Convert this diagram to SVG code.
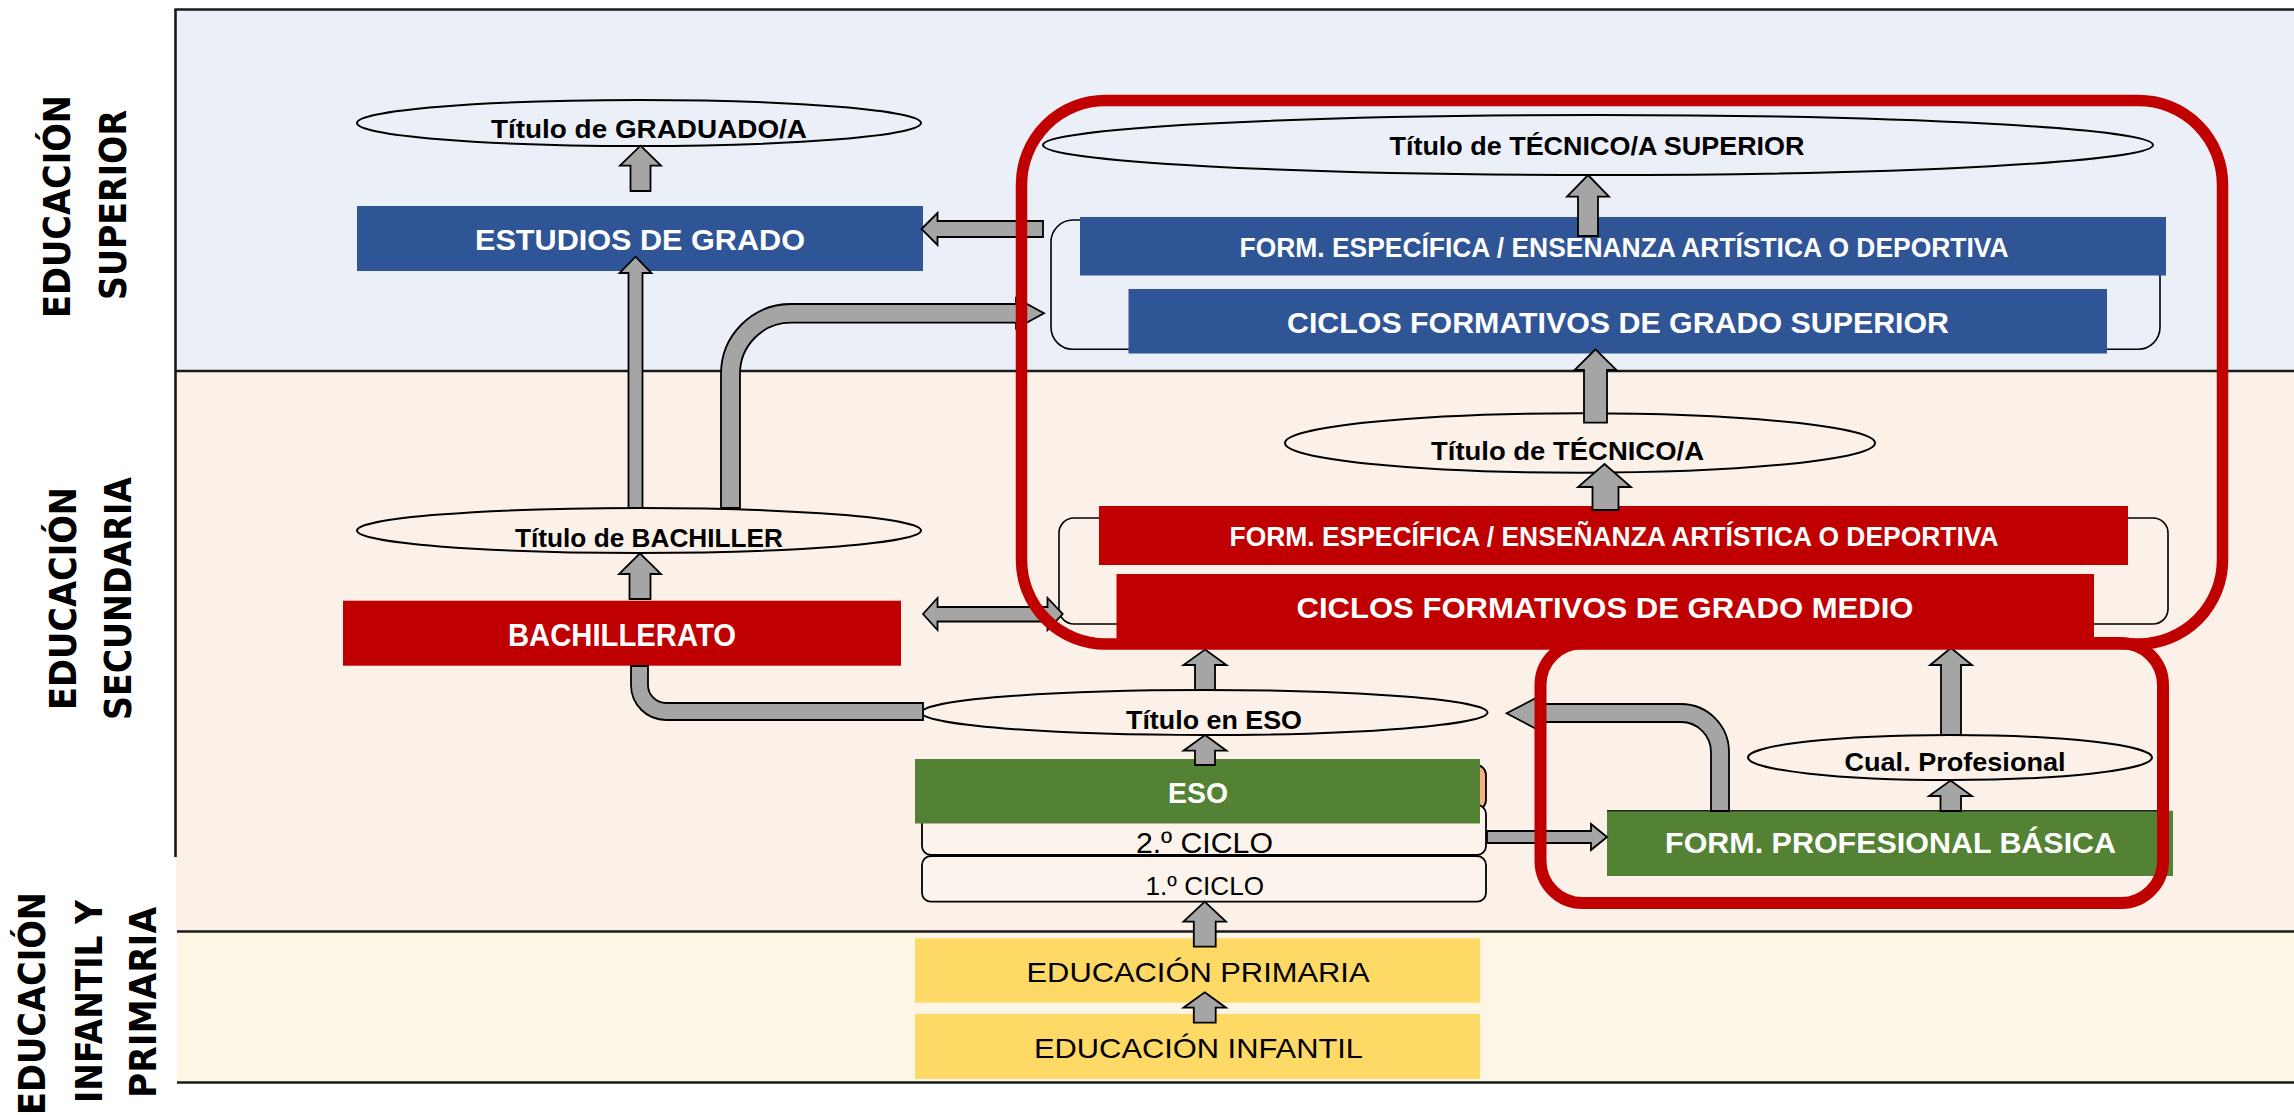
<svg xmlns="http://www.w3.org/2000/svg" width="2294" height="1115" viewBox="0 0 2294 1115">
<style>
.frame{stroke:#1a1a1a;stroke-width:2.6;fill:none}
.lbl{font-family:"DejaVu Sans","Liberation Sans",sans-serif;font-weight:bold;font-size:38px;fill:#000;text-anchor:middle}
.ell{fill:none;stroke:#000;stroke-width:2}
.et{font-family:"Liberation Sans",Arial,sans-serif;font-weight:bold;fill:#000;text-anchor:middle}
.wt{font-family:"Liberation Sans",Arial,sans-serif;font-weight:bold;fill:#fff;text-anchor:middle}
.rt{font-family:"Liberation Sans",Arial,sans-serif;fill:#000;text-anchor:middle}
.blue{fill:#2F5597}
.red{fill:#C00000}
.green{fill:#548235}
.yel{fill:#FFD966}
.brk{fill:none;stroke:#000;stroke-width:1.6}
.box{fill:#FCF3EC;stroke:#000;stroke-width:1.8}
.arr{fill:#A5A5A5;stroke:#000;stroke-width:1.8;stroke-linejoin:miter}
.hl{fill:none;stroke:#C00000}
</style>

<g id="background">
<rect x="0" y="0" width="2294" height="1115" fill="#fff"/>
<rect x="176" y="9" width="2118" height="362" fill="#EBEFF8"/>
<rect x="176" y="371" width="2118" height="560" fill="#FBF1E9"/>
<rect x="177" y="931" width="2117" height="152" fill="#FEF6E4"/>
<line class="frame" x1="174.5" y1="9.5" x2="2294" y2="9.5"/>
<line class="frame" x1="175.5" y1="9" x2="175.5" y2="857"/>
<line class="frame" x1="176" y1="371" x2="2294" y2="371"/>
<line class="frame" x1="177" y1="931.5" x2="2294" y2="931.5"/>
<line class="frame" x1="177" y1="1082.5" x2="2294" y2="1082.5"/>
</g>

<g id="label-superior">
<text class="lbl" transform="translate(70,206.5) rotate(-90)" textLength="223" lengthAdjust="spacingAndGlyphs">EDUCACIÓN</text>
<text class="lbl" transform="translate(125.5,205) rotate(-90)" textLength="190" lengthAdjust="spacingAndGlyphs">SUPERIOR</text>
</g>
<g id="label-secundaria">
<text class="lbl" transform="translate(76,598.5) rotate(-90)" textLength="223" lengthAdjust="spacingAndGlyphs">EDUCACIÓN</text>
<text class="lbl" transform="translate(131,598.5) rotate(-90)" textLength="243" lengthAdjust="spacingAndGlyphs">SECUNDARIA</text>
</g>
<g id="label-primaria">
<text class="lbl" transform="translate(44.5,1003.5) rotate(-90)" textLength="223" lengthAdjust="spacingAndGlyphs">EDUCACIÓN</text>
<text class="lbl" transform="translate(102,1001.5) rotate(-90)" textLength="203" lengthAdjust="spacingAndGlyphs">INFANTIL Y</text>
<text class="lbl" transform="translate(156,1002.5) rotate(-90)" textLength="191" lengthAdjust="spacingAndGlyphs">PRIMARIA</text>
</g>

<g id="bracket-superior"><rect class="brk" x="1051" y="220" width="1109" height="129.3" rx="22"/></g>
<g id="bracket-medio"><rect class="brk" x="1059" y="518" width="1109" height="106" rx="15"/></g>

<g id="titulo-graduado">
<ellipse class="ell" cx="639" cy="123" rx="282" ry="23"/>
<text class="et" x="649" y="138" font-size="25" textLength="316" lengthAdjust="spacingAndGlyphs">Título de GRADUADO/A</text>
</g>
<g id="titulo-tecnico-superior">
<ellipse class="ell" cx="1598" cy="145" rx="555" ry="30"/>
<text class="et" x="1597" y="155" font-size="25.5" textLength="415" lengthAdjust="spacingAndGlyphs">Título de TÉCNICO/A SUPERIOR</text>
</g>
<g id="titulo-tecnico">
<ellipse class="ell" cx="1580" cy="443" rx="295" ry="29.7"/>
<text class="et" x="1567.5" y="460" font-size="25.5" textLength="273" lengthAdjust="spacingAndGlyphs">Título de TÉCNICO/A</text>
</g>
<g id="titulo-bachiller">
<ellipse class="ell" cx="639" cy="530.5" rx="282" ry="22.5"/>
<text class="et" x="649" y="546.7" font-size="25.5" textLength="268" lengthAdjust="spacingAndGlyphs">Título de BACHILLER</text>
</g>
<g id="titulo-eso">
<ellipse class="ell" cx="1204.5" cy="712.5" rx="283" ry="22.5"/>
<text class="et" x="1214" y="729.3" font-size="26" textLength="176" lengthAdjust="spacingAndGlyphs">Título en ESO</text>
</g>
<g id="cual-profesional">
<ellipse class="ell" cx="1950" cy="757.5" rx="202" ry="22.5"/>
<text class="et" x="1955" y="770.5" font-size="26" textLength="221" lengthAdjust="spacingAndGlyphs">Cual. Profesional</text>
</g>

<g id="estudios-grado">
<rect class="blue" x="357" y="206" width="566" height="65"/>
<text class="wt" x="640" y="250" font-size="30" textLength="330" lengthAdjust="spacingAndGlyphs">ESTUDIOS DE GRADO</text>
</g>
<g id="form-especifica-superior">
<rect class="blue" x="1080" y="217" width="1086" height="58.5"/>
<text class="wt" x="1624" y="256.7" font-size="27" textLength="769" lengthAdjust="spacingAndGlyphs">FORM. ESPECÍFICA / ENSENANZA ARTÍSTICA O DEPORTIVA</text>
</g>
<g id="cf-grado-superior">
<rect class="blue" x="1128.5" y="289" width="978.5" height="64.5"/>
<text class="wt" x="1618" y="333" font-size="30" textLength="662" lengthAdjust="spacingAndGlyphs">CICLOS FORMATIVOS DE GRADO SUPERIOR</text>
</g>
<g id="form-especifica-medio">
<rect class="red" x="1099" y="506" width="1029" height="59"/>
<text class="wt" x="1614" y="546" font-size="27" textLength="769" lengthAdjust="spacingAndGlyphs">FORM. ESPECÍFICA / ENSEÑANZA ARTÍSTICA O DEPORTIVA</text>
</g>
<g id="cf-grado-medio">
<rect class="red" x="1116.5" y="574" width="977.5" height="75"/>
<text class="wt" x="1605" y="617.7" font-size="30" textLength="617" lengthAdjust="spacingAndGlyphs">CICLOS FORMATIVOS DE GRADO MEDIO</text>
</g>
<g id="bachillerato">
<rect class="red" x="343" y="600.7" width="558" height="65"/>
<text class="wt" x="622" y="645.7" font-size="30.5" textLength="228" lengthAdjust="spacingAndGlyphs">BACHILLERATO</text>
</g>
<g id="eso">
<rect x="922" y="765" width="564" height="45" rx="10" fill="#F4B183" stroke="#000" stroke-width="1.8"/>
<rect class="box" x="922" y="805" width="564" height="50" rx="9"/>
<rect class="box" x="922" y="856" width="564" height="45.7" rx="9"/>
<rect class="green" x="915" y="759" width="565" height="64.5"/>
<text class="wt" x="1198" y="803" font-size="30" textLength="60" lengthAdjust="spacingAndGlyphs">ESO</text>
<text class="rt" x="1204.4" y="853.3" font-size="30" textLength="137" lengthAdjust="spacingAndGlyphs">2.º CICLO</text>
<text class="rt" x="1204.8" y="895" font-size="26.5" textLength="118.4" lengthAdjust="spacingAndGlyphs">1.º CICLO</text>
</g>
<g id="fp-basica">
<rect class="green" x="1607" y="810.7" width="566" height="65.3"/>
<line x1="1607" y1="810.7" x2="2160" y2="810.7" stroke="#222" stroke-width="1.6"/>
<text class="wt" x="1890.6" y="853.3" font-size="29" textLength="451" lengthAdjust="spacingAndGlyphs">FORM. PROFESIONAL BÁSICA</text>
</g>
<g id="educacion-primaria">
<rect class="yel" x="915" y="938.3" width="565" height="64.4"/>
<text class="rt" x="1198" y="981.7" font-size="28" textLength="343" lengthAdjust="spacingAndGlyphs">EDUCACIÓN PRIMARIA</text>
</g>
<g id="educacion-infantil">
<rect class="yel" x="915" y="1014" width="565" height="65"/>
<text class="rt" x="1198.5" y="1058.3" font-size="28" textLength="329" lengthAdjust="spacingAndGlyphs">EDUCACIÓN INFANTIL</text>
</g>

<g id="connectors">
<!-- ESTUDIOS -> GRADUADO -->
<polygon class="arr" points="640.5,145.7 661,165.7 650.5,165.7 650.5,191 630.5,191 630.5,165.7 620,165.7"/>
<!-- BACHILLER -> ESTUDIOS -->
<polygon class="arr" points="635.5,256.7 651.5,273 642.5,273 642.5,508 628.5,508 628.5,273 619.5,273"/>
<!-- BACHILLER -> CF Superior (curved) -->
<path class="arr" d="M721,508 L721,374 A70,70 0 0 1 791,304 L1016,304 L1016,298 L1044,313.3 L1016,328.5 L1016,322.7 L791,322.7 A51,51 0 0 0 740,374 L740,508 Z"/>
<!-- BACHILLERATO -> BACHILLER -->
<polygon class="arr" points="640,553.3 661,574 650.5,574 650.5,599 629.5,599 629.5,574 619,574"/>
<!-- bracket superior -> ESTUDIOS -->
<polygon class="arr" points="921.5,229 937.5,213 937.5,221 1043,221 1043,237 937.5,237 937.5,245"/>
<!-- CF Superior -> TECNICO SUPERIOR -->
<polygon class="arr" points="1588,175 1609,196.7 1598,196.7 1598,236 1578,236 1578,196.7 1567,196.7"/>
<!-- TECNICO -> CF Superior -->
<polygon class="arr" points="1595.5,349.3 1616.5,370 1607,370 1607,422.7 1584,422.7 1584,370 1574.5,370"/>
<!-- FORM ESP medio -> TECNICO -->
<polygon class="arr" points="1604.5,464 1631,487 1618.5,487 1618.5,510 1592.5,510 1592.5,487 1578,487"/>
<!-- double arrow BACHILLERATO <-> CF medio -->
<polygon class="arr" points="923,614 937.5,598 937.5,607 1047.5,607 1047.5,598 1062.7,614 1047.5,630 1047.5,621.5 937.5,621.5 937.5,630"/>
<!-- Titulo ESO -> CF medio -->
<polygon class="arr" points="1205,649.5 1226.5,665 1215,665 1215,690 1195,690 1195,665 1183.5,665"/>
<!-- Cual -> CF medio -->
<polygon class="arr" points="1951,648 1972,665 1961,665 1961,735 1941,735 1941,665 1930,665"/>
<!-- Titulo ESO - BACHILLERATO bent bar -->
<path class="arr" d="M631,666 L631,685 A35,35 0 0 0 666,720 L923,720 L923,703 L666,703 A18,18 0 0 1 648,685 L648,666 Z"/>
<!-- ESO -> Titulo ESO -->
<polygon class="arr" points="1205,735 1226.5,750.7 1215,750.7 1215,765 1195,765 1195,750.7 1183.5,750.7"/>
<!-- 2o CICLO -> FP Basica -->
<polygon class="arr" points="1607,837 1591,850 1591,843 1487,843 1487,831 1591,831 1591,824"/>
<!-- FP Basica -> Titulo ESO -->
<path class="arr" d="M1729,811 L1729,752 A48,48 0 0 0 1681,704 L1545,704 L1545,693.3 L1506.6,713.3 L1545,733.5 L1545,722 L1681,722 A30,30 0 0 1 1711,752 L1711,811 Z"/>
<!-- FP Basica -> Cual -->
<polygon class="arr" points="1950.5,780.5 1972,796 1961,796 1961,811 1940.5,811 1940.5,796 1929,796"/>
<!-- PRIMARIA -> 1o CICLO -->
<polygon class="arr" points="1204.7,901.7 1226,921.7 1215.7,921.7 1215.7,946.7 1193.8,946.7 1193.8,921.7 1183.5,921.7"/>
<!-- INFANTIL -> PRIMARIA -->
<polygon class="arr" points="1204.7,992.3 1226,1007.7 1215.7,1007.7 1215.7,1022.7 1193.8,1022.7 1193.8,1007.7 1183.5,1007.7"/>
</g>

<g id="highlights">
<rect class="hl" x="1021.5" y="100.5" width="1201" height="543.5" rx="84" stroke-width="11.5"/>
<rect class="hl" x="1540.5" y="643" width="622.5" height="260" rx="42" stroke-width="12"/>
</g>
</svg>
